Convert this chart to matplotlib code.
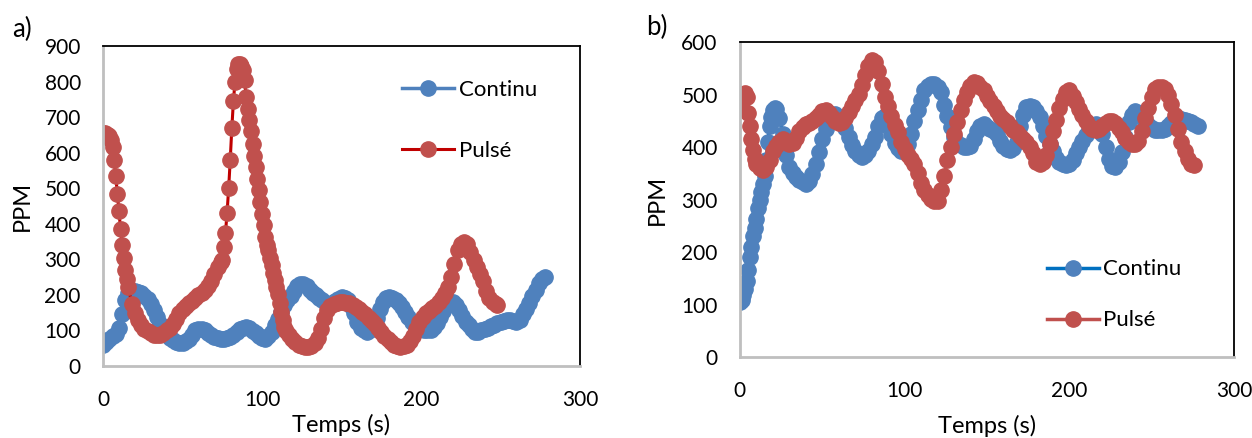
import numpy as np
import matplotlib
matplotlib.use('Agg')
import matplotlib.pyplot as plt

plt.rcParams['font.family'] = ['Lato', 'DejaVu Sans']

# --- panel a) ---
a_cont_t = list(range(0, 280, 2))
a_cont_v = [58, 68, 77, 84, 91, 108, 145, 185, 205, 210, 210, 208, 204, 198, 188, 175, 157, 138, 118, 100,
            88, 80, 74, 68, 64, 64, 70, 77, 88, 100, 104, 105, 100, 92, 86, 82, 79, 77, 77, 79,
            82, 88, 96, 103, 108, 110, 106, 99, 92, 85, 79, 77, 84, 96, 115, 133, 152, 171, 185, 198,
            212, 226, 232, 230, 225, 215, 206, 200, 192, 186, 176, 172, 176, 182, 189, 194, 192, 185, 170, 148,
            125, 108, 100, 96, 100, 112, 135, 160, 180, 190, 194, 192, 187, 178, 165, 152, 138, 124, 115, 108,
            105, 102, 100, 100, 110, 122, 137, 155, 168, 176, 180, 172, 158, 140, 124, 114, 104, 97, 96, 100,
            105, 108, 112, 116, 120, 124, 126, 128, 128, 126, 124, 130, 145, 160, 178, 196, 215, 233, 245, 250]

a_puls_t = (list(range(0, 17)) + list(range(18, 75, 2)) + list(range(75, 116))
            + list(range(117, 248, 2)) + [248])
a_puls_v = [655, 655, 652, 650, 646, 635, 616, 580, 534, 485, 435, 386, 341, 305, 269, 245, 222,
            175, 150, 128, 115, 105, 98, 92, 88, 86, 87, 92, 100, 108, 118, 132, 148, 161, 170, 177, 183,
            190, 199, 206, 213, 225, 240, 258, 278, 292,
            297, 335, 375, 430, 500, 580, 670, 745, 800, 836, 848, 850, 845, 832, 803, 757, 724, 691, 660, 625,
            592, 560, 527, 494, 461, 428, 396, 363, 340, 325, 304, 283, 262, 241, 222, 203, 178, 152, 130, 110,
            98,
            88, 77, 68, 58, 55, 53, 53, 56, 64, 80, 104, 135, 157, 168, 174, 178, 180, 180, 178, 176,
            172, 166, 160, 153, 145, 135, 126, 117, 106, 95, 85, 76, 68, 60, 55, 53, 55, 58, 70, 85,
            105, 124, 138, 148, 156, 162, 170, 180, 192, 205, 222, 250, 288, 325, 343, 349, 342, 322, 298, 278,
            258, 240, 210, 192, 180, 173, 171]

# --- panel b) ---
b_cont_t = list(range(0, 23)) + list(range(24, 280, 2))
b_cont_v = [105, 108, 118, 130, 145, 165, 190, 210, 230, 245, 262, 283, 300, 315, 330, 345, 375, 410, 440, 458,
            470, 475, 472,
            455, 425, 385, 362, 350, 343, 338, 333, 330, 335, 348, 368, 390, 415, 435, 452, 462, 463, 458, 448,
            436, 420, 404, 392, 384, 382, 385, 393, 405, 420, 440, 455, 460, 445, 425, 408, 398, 392, 392, 405,
            425, 450, 470, 490, 508, 517, 521, 520, 515, 505, 480, 460, 438, 420, 408, 403, 400, 400, 402, 415,
            430, 441, 443, 438, 435, 430, 424, 412, 402, 396, 394, 398, 410, 440, 462, 476, 478, 476, 468, 458,
            440, 422, 405, 392, 380, 372, 367, 365, 367, 375, 388, 400, 412, 423, 432, 438, 443, 440, 425, 400,
            378, 364, 362, 372, 390, 420, 448, 462, 468, 465, 458, 448, 442, 436, 432, 432, 432, 434, 440, 446,
            452, 455, 454, 451, 450, 447, 443, 440]

b_puls_t = list(range(0, 11)) + list(range(12, 277, 2))
b_puls_v = [477, 485, 500, 503, 495, 465, 440, 415, 395, 378, 368,
            360, 356, 362, 375, 392, 402, 410, 415, 412, 405, 408, 418, 430, 438, 443, 446, 450, 455, 462, 468,
            470, 465, 458, 450, 446, 448, 455, 466, 478, 490, 502, 518, 537, 555, 566, 563, 545, 520, 496, 478,
            460, 442, 428, 410, 396, 385, 378, 368, 350, 332, 318, 308, 302, 298, 298, 318, 345, 375, 400, 425,
            448, 470, 489, 505, 517, 524, 522, 515, 508, 498, 488, 478, 468, 460, 454, 448, 440, 433, 428, 422,
            415, 410, 400, 388, 372, 368, 372, 385, 405, 430, 452, 475, 492, 505, 508, 498, 486, 472, 462, 450,
            440, 435, 432, 434, 440, 445, 450, 450, 445, 437, 428, 418, 410, 406, 405, 412, 430, 455, 475, 495,
            510, 515, 514, 510, 500, 483, 462, 435, 410, 392, 378, 368, 365]

BLUE = '#4F81BD'
RED = '#C0504D'
FS = 15
LFS = 17
MS = 11


def style_axes(ax, ymax, xlabelpad, ylabelpad):
    ax.set_xlim(0, 300)
    ax.set_ylim(0, ymax)
    ax.set_xticks([0, 100, 200, 300])
    ax.set_yticks(range(0, ymax + 1, 100))
    ax.tick_params(length=0, labelsize=FS)
    ax.tick_params(axis='x', pad=17)
    ax.tick_params(axis='y', pad=16)
    for s in ['top', 'right']:
        ax.spines[s].set_color('black')
        ax.spines[s].set_linewidth(1.3)
    for s in ['left', 'bottom']:
        ax.spines[s].set_color('#BFBFBF')
        ax.spines[s].set_linewidth(2)
    ax.set_xlabel('Temps (s)', fontsize=LFS, labelpad=xlabelpad)
    ax.set_ylabel('PPM', fontsize=LFS, labelpad=ylabelpad)


fig = plt.figure(figsize=(12.52, 4.38), dpi=100)
ax1 = fig.add_axes([0.0823, 0.1644, 0.381, 0.7306])
ax2 = fig.add_axes([0.591, 0.1849, 0.3946, 0.719])

ax1.plot(a_cont_t, a_cont_v, color=BLUE, lw=2.5, marker='o', ms=MS, mfc=BLUE, mec=BLUE, label='Continu')
ax1.plot(a_puls_t, a_puls_v, color='#C00000', lw=2.2, marker='o', ms=MS, mfc=RED, mec=RED, label='Pulsé')
style_axes(ax1, 900, 3, 8)
ax1.legend(loc='upper left', bbox_to_anchor=(0.627, 0.895), frameon=False, fontsize=FS + 1,
           handlelength=2.35, handletextpad=0.2, labelspacing=1.85, borderpad=0, borderaxespad=0)

ax2.plot(b_cont_t, b_cont_v, color='#0070C0', lw=2.5, marker='o', ms=MS, mfc=BLUE, mec=BLUE, label='Continu')
ax2.plot(b_puls_t, b_puls_v, color=RED, lw=2.5, marker='o', ms=MS, mfc=RED, mec=RED, label='Pulsé')
style_axes(ax2, 600, 10, 10)
ax2.legend(loc='upper left', bbox_to_anchor=(0.621, 0.31), frameon=False, fontsize=FS + 1,
           handlelength=2.35, handletextpad=0.2, labelspacing=1.4, borderpad=0, borderaxespad=0)

fig.text(12 / 1252, 1 - 29 / 438, 'a)', fontsize=18.5, va='center', ha='left')
fig.text(646 / 1252, 1 - 27 / 438, 'b)', fontsize=18.5, va='center', ha='left')

fig.savefig('out.png', dpi=100)
